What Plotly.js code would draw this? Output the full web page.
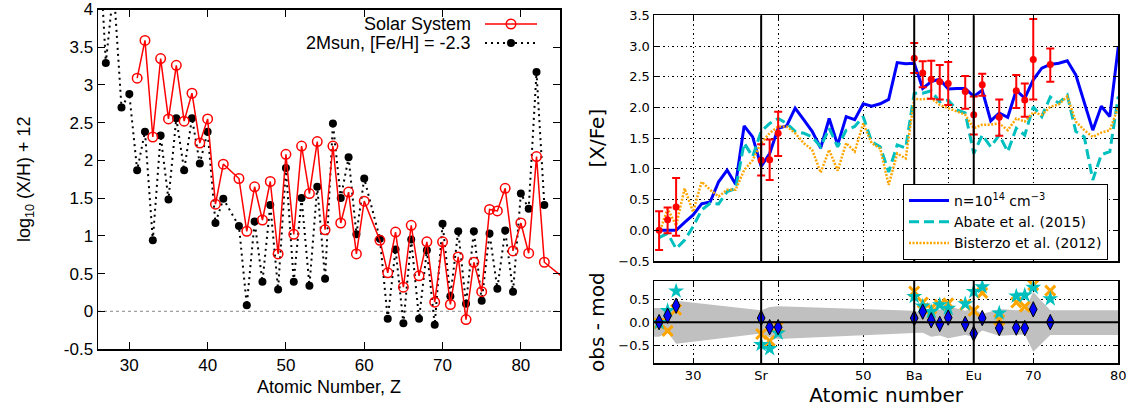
<!DOCTYPE html>
<html><head><meta charset="utf-8">
<script src="https://cdn.plot.ly/plotly-3.0.1.min.js"></script>
<style>html,body{margin:0;padding:0;background:#fff}#plot{width:1144px;height:408px}</style>
</head><body><div id="plot"></div>
<script>
// ---------- Left panel: log10(X/H)+12 ----------
const zSolar = [31,32,33,34,35,36,37,38,39,40,41,42,44,45,46,47,48,49,50,51,52,53,54,55,56,57,58,59,60,62,63,64,65,66,67,68,69,70,71,72,73,74,75,76,77,78,79,80,81,82,83,90];
const solar = [3.09,3.59,2.31,3.35,2.55,3.26,2.52,2.89,2.23,2.55,1.42,1.95,1.76,1.06,1.65,1.21,1.72,0.76,2.08,1.02,2.19,1.56,2.25,1.08,2.19,1.17,1.58,0.76,1.46,0.94,0.51,1.05,0.32,1.14,0.47,0.92,0.12,0.92,0.09,0.72,-0.11,0.65,0.26,1.35,1.33,1.63,0.80,1.17,0.77,2.05,0.65,0.06];
const zModel = [26,27,28,29,30,31,32,33,34,35,36,37,38,39,40,41,42,44,45,46,47,48,49,50,51,52,53,54,55,56,57,58,59,60,62,63,64,65,66,67,68,69,70,71,72,73,74,75,76,77,78,79,80,81,82,83];
const model2M = [5.2,3.29,4.3,2.70,2.88,1.87,2.38,0.94,2.33,1.48,2.56,1.87,2.56,1.96,2.38,1.17,1.49,1.13,0.08,1.19,0.39,1.41,0.29,1.90,0.39,1.50,0.34,1.65,0.43,2.49,1.50,2.04,1.02,1.76,0.96,-0.10,0.82,-0.16,0.95,-0.10,0.81,-0.18,1.16,0.20,1.06,0.10,1.06,0.14,1.03,0.30,1.07,0.26,1.56,1.36,3.17,1.41];
const leftXTicks = [30,40,50,60,70,80];
const leftYTicks = [-0.5,0,0.5,1,1.5,2,2.5,3,3.5,4];
const leftYTickText = ['-0.5','0','0.5','1','1.5','2','2.5','3','3.5','4'];

// ---------- Right panels: [X/Fe] ----------
const zR = [26,27,28,29,30,31,32,33,34,35,36,37,38,39,40,41,42,43,44,45,46,47,48,49,50,51,52,53,54,55,56,57,58,59,60,61,62,63,64,65,66,67,68,69,70,71,72,73,74,75,76,77,78,79,80];
const nModel = [0.0,0.0,0.0,0.13,0.25,0.43,0.46,0.79,0.98,0.75,1.70,1.52,1.04,1.25,1.66,1.70,1.99,1.80,1.61,1.34,1.82,1.39,1.85,1.80,2.06,2.02,2.06,2.13,2.73,2.71,2.72,2.31,2.42,2.46,2.30,2.31,2.31,2.18,2.28,1.78,1.91,1.84,2.28,2.15,2.45,2.64,2.70,2.72,2.76,2.53,2.09,1.63,2.02,1.85,2.99];
const abate = [-0.12,-0.05,-0.30,-0.16,0.06,0.33,0.44,0.43,0.63,0.68,1.42,1.20,1.61,1.74,1.82,1.74,1.61,1.58,1.52,1.36,1.66,1.36,1.63,1.69,1.85,1.44,1.36,0.95,1.39,1.34,2.23,2.23,2.27,2.09,2.12,1.96,1.91,1.25,1.55,1.36,1.55,1.28,1.66,1.55,2.01,1.85,2.17,2.07,2.20,1.61,1.52,0.82,1.23,1.28,2.18];
const bisterzo = [-0.05,0.35,0.08,0.68,0.30,0.79,0.66,0.55,0.66,0.66,0.98,1.14,1.42,1.58,1.69,1.69,1.58,1.42,1.31,0.94,1.31,0.97,1.42,1.28,1.74,1.42,1.33,0.74,1.25,1.17,2.14,2.13,2.15,2.04,1.99,1.93,1.88,1.66,1.72,1.72,1.74,1.63,1.82,1.77,1.92,1.88,2.01,2.05,2.18,1.77,1.63,1.52,1.59,1.63,2.01];
const obsZ = [26,27,28,38,39,40,56,57,58,59,60,62,63,64,66,68,69,70,72];
const obsVal = [0.00,0.17,0.38,1.14,1.15,1.58,2.80,2.56,2.46,2.42,2.39,2.26,1.88,2.37,1.84,2.27,2.12,2.78,2.70];
const obsErrUp = [0.31,0.20,0.47,0.26,0.33,0.35,0.25,0.19,0.30,0.27,0.35,0.25,0.30,0.18,0.29,0.26,0.27,0.66,0.26];
const obsErrDn = [0.32,0.22,0.47,0.25,0.33,0.37,0.24,0.23,0.32,0.29,0.35,0.28,0.32,0.18,0.30,0.28,0.27,0.65,0.28];
const resN = [0.00,0.14,0.36,0.09,-0.11,-0.11,0.09,0.23,0.04,-0.04,0.10,-0.04,-0.25,0.09,-0.13,-0.12,-0.13,0.28,0.00];
const resAbate = [-0.01,0.25,0.68,-0.49,-0.58,-0.24,0.56,0.35,0.23,0.38,0.30,0.40,0.67,0.77,0.20,0.57,0.59,0.76,0.51];
const resBisterzo = [-0.03,-0.19,0.27,-0.26,-0.41,-0.10,0.67,0.43,0.30,0.38,0.41,0.38,0.25,0.64,0.05,0.43,0.34,0.81,0.69];
const rightTickVals = [30,38,50,56,63,70,80];
const rightTickText = ['30','Sr','50','Ba','Eu','70','80'];
const gridZ = [30,40,50,60,70];
const markZ = [38,56,63];
const xRangeR = [25.4,80];

// band (observational uncertainty) built from the error arrays
const bandX = [xRangeR[0]].concat(obsZ, [xRangeR[1]]);
const bandUp = [obsErrUp[0]].concat(obsErrUp, [obsErrUp[obsErrUp.length-1]]);
const bandDn = [-obsErrDn[0]].concat(obsErrDn.map(v=>-v), [-obsErrDn[obsErrDn.length-1]]);

const LF = 'Liberation Sans, Arial, sans-serif';
const RF = 'DejaVu Sans, sans-serif';
const W = 1144, H = 408;
const px = v => v / W, py = v => 1 - v / H;

const traces = [
  // left
  {x: zModel, y: model2M, xaxis:'x', yaxis:'y', mode:'lines+markers', showlegend:false,
   line:{color:'#000', width:2, dash:'2px,4px'}, marker:{symbol:'circle', size:8, color:'#000'}},
  {x: zSolar, y: solar, xaxis:'x', yaxis:'y', mode:'lines+markers', showlegend:false,
   line:{color:'#ff0000', width:1.5}, marker:{symbol:'circle-open', size:9.5, color:'#ff0000', line:{width:1.5}}},
  // right upper
  {x: zR, y: nModel, xaxis:'x2', yaxis:'y2', mode:'lines', name:'n=10<sup>14</sup> cm<sup>−3</sup>',
   line:{color:'#0000ff', width:3}},
  {x: zR, y: abate, xaxis:'x2', yaxis:'y2', mode:'lines', name:'Abate et al. (2015)',
   line:{color:'#00bfbf', width:3, dash:'10px,5px'}},
  {x: zR, y: bisterzo, xaxis:'x2', yaxis:'y2', mode:'lines', name:'Bisterzo et al. (2012)',
   line:{color:'#ffa500', width:2.5, dash:'2px,1.5px'}},
  {x: obsZ, y: obsVal, xaxis:'x2', yaxis:'y2', mode:'markers', showlegend:false,
   marker:{color:'#ff0000', size:7},
   error_y:{type:'data', symmetric:false, array:obsErrUp, arrayminus:obsErrDn, color:'#ff0000', thickness:2, width:4}},
  // right lower
  {x: bandX.concat(bandX.slice().reverse()), y: bandUp.concat(bandDn.slice().reverse()),
   xaxis:'x3', yaxis:'y3', mode:'lines', fill:'toself', fillcolor:'#c0c0c0', line:{width:0}, showlegend:false, hoverinfo:'skip'},
  {x: obsZ, y: resBisterzo, xaxis:'x3', yaxis:'y3', mode:'markers', showlegend:false,
   marker:{symbol:'x-thin', size:10, color:'#ffa500', line:{color:'#ffa500', width:3}}},
  {x: obsZ, y: resAbate, xaxis:'x3', yaxis:'y3', mode:'markers', showlegend:false,
   marker:{symbol:'star', size:12, color:'#00bfbf', line:{width:0}}},
  {x: obsZ, y: resN, xaxis:'x3', yaxis:'y3', mode:'markers', showlegend:false,
   marker:{symbol:'diamond-tall', size:11, color:'#0000ff', line:{color:'#000', width:1}}}
];

const shapes = [
  {type:'line', xref:'x domain', yref:'y', x0:0, x1:1, y0:0, y1:0, line:{color:'#888', width:1, dash:'dot'}, layer:'below'},
  {type:'line', xref:'x3 domain', yref:'y3', x0:0, x1:1, y0:0, y1:0, line:{color:'#000', width:2}, layer:'above'},
  {type:'line', xref:'paper', yref:'paper', x0:px(485), x1:px(537), y0:py(24), y1:py(24), line:{color:'#ff0000', width:1.5}},
  {type:'circle', xref:'paper', yref:'paper', xsizemode:'pixel', ysizemode:'pixel', xanchor:px(511), yanchor:py(24), x0:-4.75, x1:4.75, y0:-4.75, y1:4.75, line:{color:'#ff0000', width:1.5}, fillcolor:'rgba(0,0,0,0)'},
  {type:'line', xref:'paper', yref:'paper', x0:px(485), x1:px(537), y0:py(43), y1:py(43), line:{color:'#000', width:2, dash:'2px,4px'}},
  {type:'circle', xref:'paper', yref:'paper', xsizemode:'pixel', ysizemode:'pixel', xanchor:px(511), yanchor:py(43), x0:-4, x1:4, y0:-4, y1:4, line:{color:'#000', width:0}, fillcolor:'#000'}
];
markZ.forEach(z => {
  shapes.push({type:'line', xref:'x2', yref:'y2 domain', x0:z, x1:z, y0:0, y1:1, line:{color:'#000', width:2}, layer:'above'});
  shapes.push({type:'line', xref:'x3', yref:'y3 domain', x0:z, x1:z, y0:0, y1:1, line:{color:'#000', width:2}, layer:'above'});
});

const annotations = [
  {xref:'paper', yref:'paper', x:px(473), y:py(24), xanchor:'right', yanchor:'middle', showarrow:false, text:'Solar System', font:{family:LF, size:18, color:'#000'}},
  {xref:'paper', yref:'paper', x:px(473), y:py(43), xanchor:'right', yanchor:'middle', showarrow:false, text:'2Msun, [Fe/H] = -2.3', font:{family:LF, size:18, color:'#000'}}
];

const gridDot = '1.5px,3px';
const rAxisCommon = {showline:true, linecolor:'#000', linewidth:1.5, mirror:'ticks', ticks:'inside', ticklen:5, tickcolor:'#000', zeroline:false};
const rMinor = {tickmode:'array', tickvals:gridZ, showgrid:true, gridcolor:'#000', gridwidth:1, griddash:gridDot, ticks:'inside', ticklen:5, tickcolor:'#000'};

const layout = {
  width: W, height: H, margin:{l:0, r:0, t:0, b:0}, paper_bgcolor:'#fff', plot_bgcolor:'#fff',
  showlegend:true,
  legend:{x:px(903), y:py(184), xanchor:'left', yanchor:'top', bgcolor:'#fff', bordercolor:'#000', borderwidth:1,
          font:{family:RF, size:14, color:'#000'}, itemwidth:40, tracegroupgap:0},
  xaxis:{domain:[px(98), px(560)], range:[26,85], anchor:'y', tickmode:'array', tickvals:leftXTicks,
         showline:true, linecolor:'#000', linewidth:1.5, mirror:'ticks', ticks:'inside', ticklen:7, tickcolor:'#000',
         showgrid:false, zeroline:false, tickfont:{family:LF, size:17, color:'#000'},
         title:{text:'Atomic Number, Z', font:{family:LF, size:18, color:'#000'}, standoff:6}},
  yaxis:{domain:[py(349), py(9.5)], range:[-0.5,4], anchor:'x', tickmode:'array', tickvals:leftYTicks, ticktext:leftYTickText,
         showline:true, linecolor:'#000', linewidth:1.5, mirror:'ticks', ticks:'inside', ticklen:7, tickcolor:'#000',
         showgrid:false, zeroline:false, tickfont:{family:LF, size:17, color:'#000'},
         title:{text:'log<sub>10</sub> (X/H) + 12', font:{family:LF, size:18, color:'#000'}, standoff:28}},
  xaxis2: Object.assign({}, rAxisCommon, {domain:[px(654), px(1118.3)], range:xRangeR, anchor:'y2', tickmode:'array', tickvals:rightTickVals,
         showticklabels:false, showgrid:false, minor:rMinor}),
  yaxis2: Object.assign({}, rAxisCommon, {domain:[py(261), py(15.3)], range:[-0.5,3.5], anchor:'x2', tickmode:'linear', tick0:-0.5, dtick:0.5,
         tickformat:'.1f', showgrid:true, gridcolor:'#000', gridwidth:1, griddash:gridDot,
         tickfont:{family:RF, size:13, color:'#000'},
         title:{text:'[X/Fe]', font:{family:RF, size:20, color:'#000'}, standoff:8}}),
  xaxis3: Object.assign({}, rAxisCommon, {domain:[px(654), px(1118.3)], range:xRangeR, anchor:'y3', tickmode:'array', tickvals:rightTickVals, ticktext:rightTickText,
         showgrid:false, tickfont:{family:RF, size:13, color:'#000'}, minor:rMinor,
         title:{text:'Atomic number', font:{family:RF, size:20, color:'#000'}, standoff:2}}),
  yaxis3: Object.assign({}, rAxisCommon, {domain:[py(363.3), py(281)], range:[-0.9,0.9], anchor:'x3', tickmode:'array', tickvals:[-0.5,0,0.5],
         tickformat:'.1f', showgrid:true, gridcolor:'#000', gridwidth:1, griddash:gridDot,
         tickfont:{family:RF, size:13, color:'#000'},
         title:{text:'obs - mod', font:{family:RF, size:20, color:'#000'}, standoff:8}}),
  shapes: shapes,
  annotations: annotations
};

Plotly.newPlot('plot', traces, layout, {staticPlot:true, displayModeBar:false});
</script>
</body></html>
